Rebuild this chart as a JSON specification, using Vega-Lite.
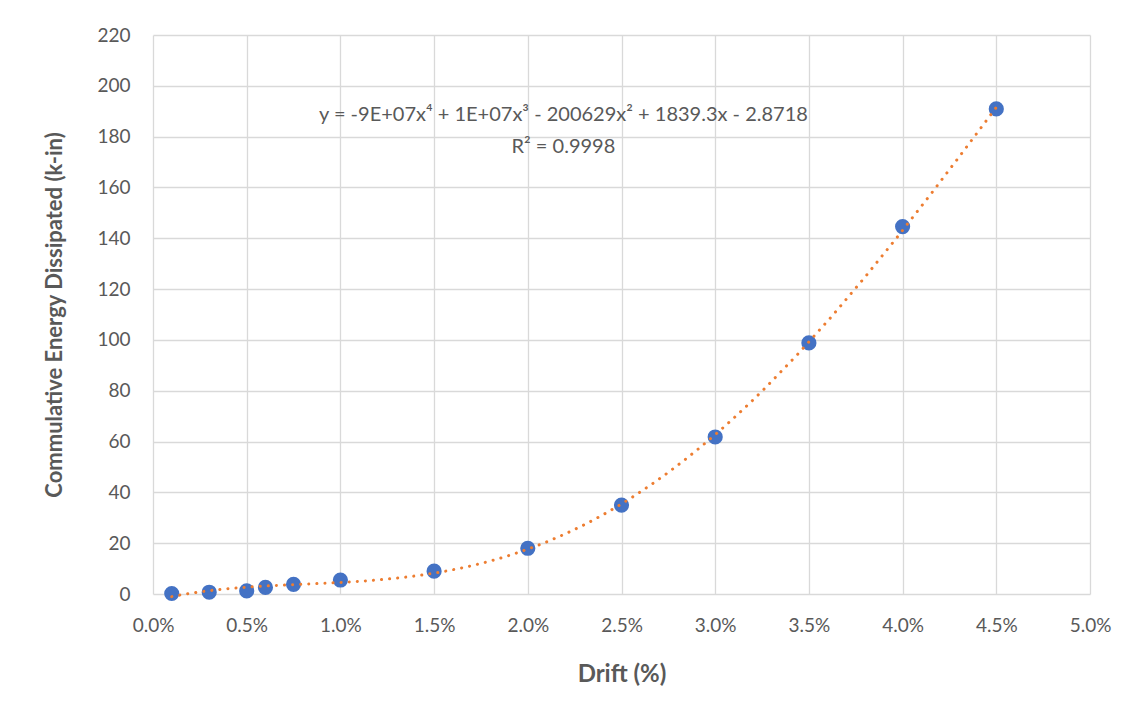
{
  "$schema": "https://vega.github.io/schema/vega-lite/v6.json",
  "width": 937,
  "height": 559,
  "autosize": {"type": "none"},
  "padding": {"left": 153, "top": 35, "right": 49, "bottom": 114},
  "background": "white",
  "config": {
    "font": "Lato",
    "view": {"stroke": null},
    "axis": {
      "labelFont": "Lato",
      "labelFontSize": 19,
      "labelColor": "#595959",
      "labelFlush": false,
      "labelOverlap": false,
      "titleFont": "Lato",
      "titleFontWeight": "bold",
      "titleColor": "#595959",
      "gridColor": "#D9D9D9",
      "gridWidth": 1.3,
      "domain": false,
      "ticks": false
    }
  },
  "datasets": {
    "pts": [
      {"drift": 0.001, "energy": 0.2},
      {"drift": 0.003, "energy": 0.7},
      {"drift": 0.005, "energy": 1.2},
      {"drift": 0.006, "energy": 2.6},
      {"drift": 0.0075, "energy": 3.8},
      {"drift": 0.01, "energy": 5.5},
      {"drift": 0.015, "energy": 9.0},
      {"drift": 0.02, "energy": 18.0},
      {"drift": 0.025, "energy": 35.0},
      {"drift": 0.03, "energy": 61.8},
      {"drift": 0.035, "energy": 98.8},
      {"drift": 0.04, "energy": 144.6},
      {"drift": 0.045, "energy": 190.9}
    ],
    "notes": [
      {"drift": 0.0219, "energy": 188.6, "label": "y = -9E+07x⁴ + 1E+07x³ - 200629x² + 1839.3x - 2.8718"},
      {"drift": 0.0219, "energy": 176.0, "label": "R² = 0.9998"}
    ]
  },
  "layer": [
    {
      "data": {"name": "pts"},
      "mark": {"type": "point", "filled": true, "size": 230, "color": "#4472C4", "opacity": 1},
      "encoding": {
        "x": {
          "field": "drift", "type": "quantitative",
          "scale": {"domain": [0, 0.05], "nice": false},
          "axis": {"format": ".1%", "values": [0, 0.005, 0.01, 0.015, 0.02, 0.025, 0.03, 0.035, 0.04, 0.045, 0.05], "title": "Drift (%)", "titleFontSize": 24, "labelPadding": 22, "titlePadding": 27}
        },
        "y": {
          "field": "energy", "type": "quantitative",
          "scale": {"domain": [0, 220], "nice": false},
          "axis": {"values": [0, 20, 40, 60, 80, 100, 120, 140, 160, 180, 200, 220], "title": "Commulative Energy Dissipated (k-in)", "titleFontSize": 22, "labelPadding": 23, "titlePadding": 30}
        }
      }
    },
    {
      "data": {"name": "pts"},
      "transform": [{"regression": "energy", "on": "drift", "method": "poly", "order": 4}],
      "mark": {"type": "line", "color": "#ED7D31", "strokeWidth": 3, "strokeDash": [0.1, 8], "strokeCap": "round"},
      "encoding": {
        "x": {"field": "drift", "type": "quantitative"},
        "y": {"field": "energy", "type": "quantitative"}
      }
    },
    {
      "data": {"name": "notes"},
      "mark": {"type": "text", "fontSize": 20, "color": "#595959", "font": "Lato", "align": "center", "baseline": "middle"},
      "encoding": {
        "x": {"field": "drift", "type": "quantitative"},
        "y": {"field": "energy", "type": "quantitative"},
        "text": {"field": "label"}
      }
    }
  ]
}
